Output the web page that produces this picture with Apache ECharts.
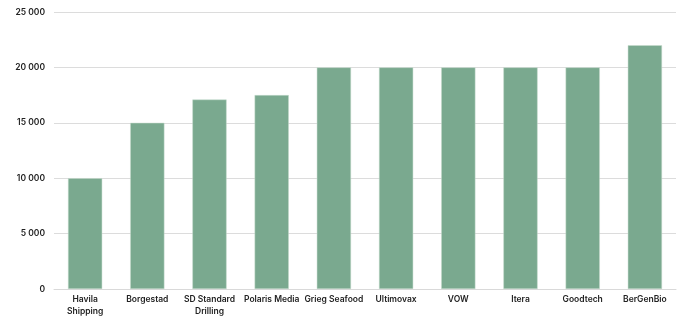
<!DOCTYPE html>
<html><head><meta charset="utf-8">
<script src="https://cdn.jsdelivr.net/npm/echarts@6/dist/echarts.min.js"></script>
<style>html,body{margin:0;padding:0;background:#fff}#c{width:679px;height:317px}</style>
</head><body><div id="c"></div>
<script>
const categories = ['Havila\nShipping','Borgestad','SD Standard\nDrilling','Polaris Media','Grieg Seafood','Ultimovax','VOW','Itera','Goodtech','BerGenBio'];
const values = [10000,15000,17100,17500,20000,20000,20000,20000,20000,22000];
const yTicks = {min:0,max:25000,interval:5000};
const chart = echarts.init(document.getElementById('c'));
chart.setOption({
  animation:false,
  grid:{left:54,right:3,top:12,bottom:27,containLabel:false},
  xAxis:{type:'category',data:categories,
    axisLine:{lineStyle:{color:'#d9d9d9'}},axisTick:{show:false},
    axisLabel:{interval:0,color:'#222',fontFamily:'Inter',fontSize:8.5,fontWeight:600,lineHeight:12,margin:4}},
  yAxis:{type:'value',min:yTicks.min,max:yTicks.max,interval:yTicks.interval,
    axisLine:{show:false},axisTick:{show:false},
    splitLine:{lineStyle:{color:'#dcdcdc'}},
    axisLabel:{color:'#222',fontFamily:'Inter',fontSize:8.5,fontWeight:600,margin:9,
      formatter:v=>String(v).replace(/\B(?=(\d{3})+(?!\d))/g,' ')}},
  series:[{type:'bar',data:values,barWidth:'55%',
    itemStyle:{color:'#7aa98f',borderColor:'#c8dccf',borderWidth:0.5}}]
});
</script></body></html>
